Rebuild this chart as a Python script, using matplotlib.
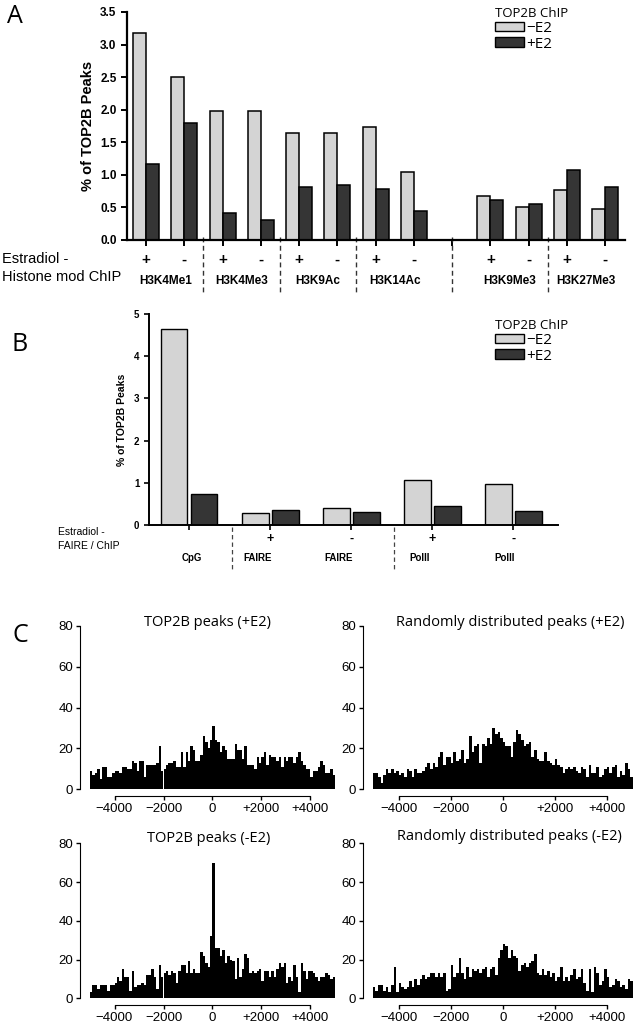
import numpy as np
import matplotlib
matplotlib.use("Agg")
import matplotlib.pyplot as plt
from matplotlib.patches import Patch
from matplotlib.transforms import blended_transform_factory

# ---- panel A data ----
estradiol_a = ['+', '-', '+', '-', '+', '-', '+', '-', '', '+', '-', '+', '-']
minus_e2_a = [3.17, 2.50, 1.98, 1.98, 1.64, 1.64, 1.74, 1.04, np.nan, 0.68, 0.51, 0.76, 0.48]
plus_e2_a = [1.16, 1.80, 0.42, 0.30, 0.81, 0.85, 0.79, 0.45, np.nan, 0.61, 0.55, 1.07, 0.82]
marks_a = ['H3K4Me1', 'H3K4Me3', 'H3K9Ac', 'H3K14Ac', 'H3K9Me3', 'H3K27Me3']
mark_slots_a = [(0, 1), (2, 3), (4, 5), (6, 7), (9, 10), (11, 12)]
separators_a = [1.5, 3.5, 5.5, 8, 10.5]

# ---- panel B data ----
estradiol_b = ['', '+', '-', '+', '-']
feature_b = ['CpG', 'FAIRE', 'FAIRE', 'PolII', 'PolII']
minus_e2_b = [4.63, 0.28, 0.41, 1.08, 0.97]
plus_e2_b = [0.74, 0.36, 0.31, 0.46, 0.34]
separators_b = [0.5, 2.5]

# ---- panel C data (counts per 100 bp bin, -5000..+5000) ----
bin_centers = np.arange(-4950, 5000, 100)
top2b_plus = [9, 7, 8, 10, 5, 11, 11, 6, 6, 8,
              9, 9, 8, 11, 11, 10, 10, 14, 13, 9,
              14, 14, 6, 12, 12, 12, 12, 13, 21, 9,
              10, 12, 13, 13, 14, 11, 11, 18, 11, 18,
              14, 21, 19, 14, 14, 17, 26, 23, 20, 24,
              31, 24, 23, 18, 21, 19, 15, 15, 15, 22,
              19, 19, 15, 21, 12, 12, 12, 10, 16, 13,
              16, 18, 12, 17, 16, 16, 14, 16, 11, 16,
              14, 16, 16, 13, 16, 18, 14, 12, 10, 10,
              6, 9, 9, 11, 14, 12, 8, 8, 10, 7]
random_plus = [8, 8, 6, 3, 7, 10, 8, 10, 8, 9,
               7, 8, 6, 10, 9, 6, 10, 8, 8, 9,
               11, 13, 10, 13, 11, 16, 18, 12, 16, 16,
               13, 18, 14, 15, 19, 13, 15, 26, 18, 21,
               22, 13, 22, 21, 25, 22, 30, 27, 28, 25,
               23, 21, 21, 16, 23, 29, 27, 24, 21, 22,
               23, 16, 19, 15, 14, 14, 18, 14, 13, 12,
               15, 12, 11, 8, 10, 11, 10, 11, 9, 8,
               11, 10, 6, 12, 8, 8, 11, 6, 7, 10,
               11, 8, 11, 12, 6, 9, 7, 13, 10, 6]
top2b_minus = [3, 7, 7, 5, 7, 7, 7, 4, 7, 7,
               8, 11, 9, 15, 11, 11, 4, 14, 6, 7,
               7, 8, 7, 12, 12, 15, 11, 5, 17, 11,
               13, 14, 12, 14, 13, 8, 14, 17, 17, 13,
               19, 13, 15, 13, 13, 24, 22, 18, 16, 32,
               70, 26, 26, 22, 25, 18, 22, 20, 19, 10,
               21, 11, 15, 23, 21, 13, 14, 13, 14, 15,
               9, 14, 14, 11, 14, 11, 15, 18, 16, 18,
               8, 11, 9, 17, 11, 3, 18, 14, 10, 14,
               14, 13, 11, 9, 11, 11, 13, 12, 10, 11]
random_minus = [6, 4, 7, 7, 4, 6, 3, 7, 16, 3,
                8, 6, 5, 6, 9, 6, 10, 7, 10, 12,
                10, 11, 13, 13, 11, 13, 11, 13, 4, 5,
                17, 11, 13, 21, 13, 10, 16, 11, 15, 14,
                15, 13, 15, 16, 11, 15, 16, 12, 21, 25,
                28, 27, 21, 25, 22, 21, 14, 17, 18, 16,
                18, 19, 23, 13, 12, 15, 12, 14, 11, 13,
                9, 11, 16, 9, 11, 9, 12, 15, 10, 11,
                15, 8, 4, 15, 3, 16, 13, 7, 9, 15,
                11, 6, 7, 10, 9, 6, 7, 5, 10, 9]
hist_ticks = [-4000, -2000, 0, 2000, 4000]
hist_ticklabels = ['\u22124000', '\u22122000', '0', '+2000', '+4000']

LIGHT = '#d4d4d4'
DARK = '#353535'
ARIAL = 'Liberation Sans'
OPEN = 'Open Sans'

W, H = 635, 1023
fig = plt.figure(figsize=(W / 100, H / 100), dpi=100)


def fx(x):
    return x / W


def fy(y):
    return 1 - y / H


def box(x0, y0, x1, y1):
    # pixel box (top-left origin) -> figure rect
    return [fx(x0), fy(y1), (x1 - x0) / W, (y1 - y0) / H]


def legend(ax, x, y):
    handles = [Patch(facecolor=LIGHT, edgecolor='black', lw=1.0),
               Patch(facecolor=DARK, edgecolor='black', lw=1.0)]
    lg = ax.legend(handles, ['\u2212E2', '+E2'], title='TOP2B ChIP',
                   loc='upper left', bbox_to_anchor=(fx(x), fy(y)),
                   bbox_transform=fig.transFigure, frameon=False,
                   handlelength=1.9, handleheight=0.6, handletextpad=0.15,
                   labelspacing=0.05, borderpad=0, borderaxespad=0,
                   alignment='left', prop={'family': OPEN, 'size': 11})
    lg.get_title().set_fontfamily(OPEN)
    lg.get_title().set_fontsize(9.5)


# ================= panel A =================
axA = fig.add_axes(box(127, 12, 625, 240))
xa = np.arange(len(estradiol_a))
axA.bar(xa - 0.34, minus_e2_a, width=0.34, align='edge', color=LIGHT, edgecolor='black', lw=1.1)
axA.bar(xa, plus_e2_a, width=0.34, align='edge', color=DARK, edgecolor='black', lw=1.1)
axA.set_xlim(-0.5, 12.52)
axA.set_ylim(0, 3.5)
for s in ['top', 'right']:
    axA.spines[s].set_visible(False)
for s in ['left', 'bottom']:
    axA.spines[s].set_linewidth(1.6)
axA.set_yticks(np.arange(0, 3.51, 0.5))
axA.set_yticklabels(['%.1f' % v for v in np.arange(0, 3.51, 0.5)],
                    fontweight='bold', fontsize=8.5, family=ARIAL)
axA.set_xticks(xa)
axA.set_xticklabels([])
axA.tick_params(axis='both', direction='out', length=4, width=1.4)
axA.set_ylabel('% of TOP2B Peaks', fontweight='bold', fontsize=10.5, family=ARIAL)
axA.yaxis.set_label_coords(-0.064, 0.5)

trA = blended_transform_factory(axA.transData, axA.transAxes)
for s in separators_a:
    axA.plot([s, s], [0.013, -0.23], transform=trA, color='#333333', lw=1.0,
             ls=(0, (3.5, 2.5)), clip_on=False)
for i, e in enumerate(estradiol_a):
    axA.text(i, -0.088, e, transform=trA, ha='center', va='center',
             fontweight='bold', fontsize=11, family=ARIAL)
for name, (a, b) in zip(marks_a, mark_slots_a):
    axA.text((a + b) / 2, -0.18, name, transform=trA, ha='center', va='center',
             fontweight='bold', fontsize=8.5, family=ARIAL)
fig.text(fx(2), fy(259), 'Estradiol -', ha='left', va='center', fontsize=10.5, family=ARIAL)
fig.text(fx(2), fy(277), 'Histone mod ChIP', ha='left', va='center', fontsize=10.5, family=ARIAL)
legend(axA, 495, 7)
fig.text(fx(7), fy(23), 'A', fontsize=18, family=OPEN, va='baseline')

# ================= panel B =================
axB = fig.add_axes(box(149, 313.8, 558, 525.3))
xb = np.arange(len(feature_b))
axB.bar(xb - 0.35, minus_e2_b, width=0.33, align='edge', color=LIGHT, edgecolor='black', lw=1.0)
axB.bar(xb + 0.02, plus_e2_b, width=0.33, align='edge', color=DARK, edgecolor='black', lw=1.0)
axB.set_xlim(-0.494, 4.55)
axB.set_ylim(0, 5)
for s in ['top', 'right']:
    axB.spines[s].set_visible(False)
for s in ['left', 'bottom']:
    axB.spines[s].set_linewidth(1.4)
axB.set_yticks(range(6))
axB.set_yticklabels([str(v) for v in range(6)], fontweight='bold', fontsize=7, family=ARIAL)
axB.set_xticks(xb)
axB.set_xticklabels([])
axB.tick_params(axis='both', direction='out', length=3.5, width=1.2)
axB.set_ylabel('% of TOP2B Peaks', fontweight='bold', fontsize=7.5, family=ARIAL)
axB.yaxis.set_label_coords(-0.055, 0.5)

trB = blended_transform_factory(axB.transData, axB.transAxes)
for s in separators_b:
    axB.plot([s + 0.03, s + 0.03], [-0.01, -0.22], transform=trB, color='#444444', lw=0.9,
             ls=(0, (3.5, 2.5)), clip_on=False)
for i, e in enumerate(estradiol_b):
    axB.text(i, -0.065, e, transform=trB, ha='center', va='center',
             fontweight='bold', fontsize=9, family=ARIAL)
name_shift = [0.03, -0.16, -0.16, -0.16, -0.11]
for i, name in enumerate(feature_b):
    axB.text(i + name_shift[i], -0.155, name, transform=trB, ha='center', va='center',
             fontweight='bold', fontsize=7, family=ARIAL)
fig.text(fx(58), fy(532), 'Estradiol -', ha='left', va='center', fontsize=7.5, family=ARIAL)
fig.text(fx(58), fy(546), 'FAIRE / ChIP', ha='left', va='center', fontsize=7.5, family=ARIAL)
legend(axB, 495, 319)
fig.text(fx(11), fy(351), 'B', fontsize=18, family=OPEN, va='baseline')

# ================= panel C =================
hists = [
    (top2b_plus, 'TOP2B peaks (+E2)', (90, 625.7, 335, 789.3), (207, 622)),
    (random_plus, 'Randomly distributed peaks (+E2)', (372.7, 625.7, 632.7, 789.3), (510, 622)),
    (top2b_minus, 'TOP2B peaks (-E2)', (90, 843.3, 335, 998.3), (209, 838)),
    (random_minus, 'Randomly distributed peaks (-E2)', (372.7, 843.3, 632.7, 998.3), (509, 837)),
]
for counts, title, (x0, y0, x1, y1), (tx, ty) in hists:
    ax = fig.add_axes(box(x0, y0, x1, y1))
    ax.bar(bin_centers, counts, width=100, color='black', lw=0)
    ax.set_xlim(-5000, 5000)
    ax.set_ylim(0, 80)
    for s in ['top', 'right']:
        ax.spines[s].set_visible(False)
    ax.spines['left'].set_position(('outward', 7))
    ax.spines['bottom'].set_position(('outward', 5))
    ax.spines['left'].set_bounds(0, 80)
    ax.spines['bottom'].set_bounds(-4000, 4000)
    ax.set_xticks(hist_ticks)
    ax.set_xticklabels(hist_ticklabels, fontsize=9.5, family=ARIAL)
    ax.set_yticks([0, 20, 40, 60, 80])
    ax.set_yticklabels(['0', '20', '40', '60', '80'], fontsize=9.5, family=ARIAL)
    ax.tick_params(axis='both', direction='out', length=3, width=1, pad=2)
    fig.text(fx(tx), fy(ty), title, ha='center', va='center',
             fontsize=10.5, family=OPEN)
fig.text(fx(13), fy(642), 'C', fontsize=18, family=OPEN, va='baseline')

fig.savefig('out.png', dpi=100)
